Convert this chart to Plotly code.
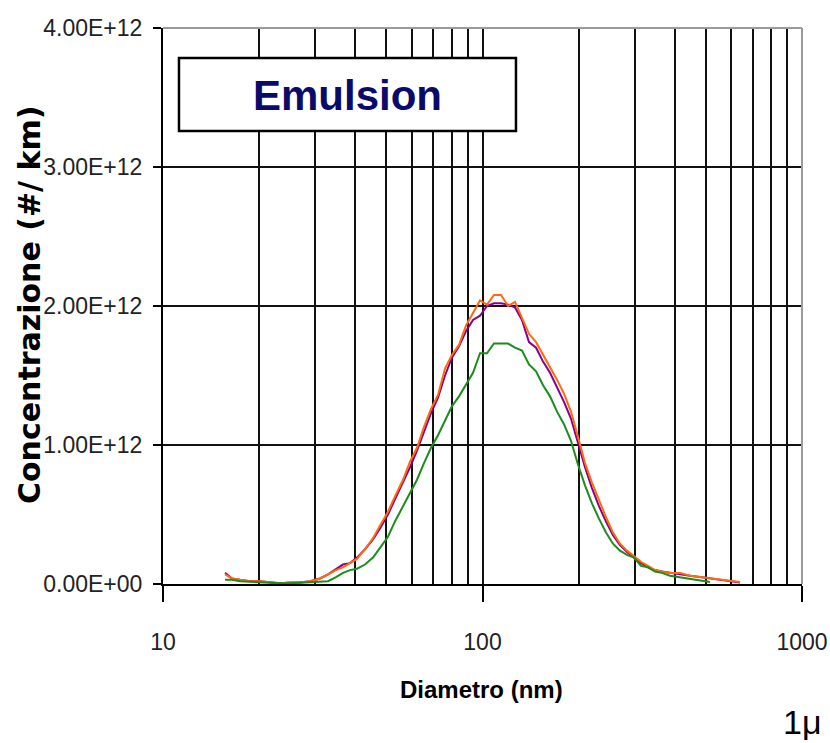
import plotly.graph_objects as go

# Particle size distribution, diameters in nm (log scale)
diameter_nm = [
    15.64, 16.44, 17.42, 18.72, 20.12, 21.62, 23.24, 24.97, 26.84, 28.85,
    31.00, 32.85, 34.79, 36.59, 38.49, 40.48, 42.88, 45.42, 47.77, 50.60,
    53.22, 56.39, 59.30, 62.37, 65.60, 69.00, 72.57, 76.33, 80.28, 84.44,
    88.81, 93.40, 98.22, 103.3, 108.6, 114.3, 120.2, 126.4, 132.9, 139.8,
    147.1, 154.7, 162.7, 171.1, 179.9, 189.2, 199.0, 209.3, 220.1, 231.5,
    243.5, 256.1, 269.4, 283.3, 298.0, 313.4, 329.6, 346.7, 364.6, 386.3,
    415.2, 446.1, 479.6, 515.4, 553.8, 595.2, 639.6,
]

# Concentrations in units of 1e12 #/km
purple_e12 = [
    0.08, 0.04, 0.03, 0.02, 0.02, 0.01, 0.005, 0.01, 0.01, 0.02,
    0.04, 0.07, 0.11, 0.14, 0.15, 0.19, 0.25, 0.32, 0.40, 0.50,
    0.61, 0.73, 0.84, 0.96, 1.10, 1.23, 1.34, 1.50, 1.63, 1.71,
    1.82, 1.90, 1.93, 2.00, 2.02, 2.02, 2.01, 1.99, 1.90, 1.74,
    1.70, 1.60, 1.52, 1.42, 1.31, 1.19, 1.02, 0.84, 0.69, 0.56,
    0.45, 0.35, 0.28, 0.23, 0.19, 0.15, 0.12, 0.10, 0.09, 0.08,
    0.07, 0.06, 0.05, 0.04, 0.03, 0.02, 0.01,
]
orange_e12 = [
    0.07, 0.04, 0.03, 0.02, 0.02, 0.01, 0.005, 0.01, 0.01, 0.02,
    0.04, 0.07, 0.10, 0.12, 0.15, 0.18, 0.25, 0.33, 0.42, 0.52,
    0.63, 0.75, 0.88, 0.98, 1.13, 1.26, 1.36, 1.55, 1.65, 1.72,
    1.86, 1.95, 2.04, 2.01, 2.08, 2.08, 2.00, 2.03, 1.92, 1.80,
    1.74, 1.65, 1.57, 1.47, 1.37, 1.24, 1.06, 0.87, 0.73, 0.60,
    0.48, 0.37, 0.29, 0.24, 0.20, 0.16, 0.13, 0.10, 0.09, 0.08,
    0.08, 0.06, 0.05, 0.04, 0.03, 0.02, 0.015,
]
green_e12 = [
    0.03, 0.03, 0.02, 0.015, 0.01, 0.005, 0.005, 0.005, 0.01, 0.01,
    0.02, 0.02, 0.05, 0.08, 0.10, 0.11, 0.14, 0.19, 0.26, 0.34,
    0.45, 0.56, 0.66, 0.75, 0.87, 0.98, 1.07, 1.18, 1.28, 1.35,
    1.43, 1.52, 1.66, 1.66, 1.73, 1.73, 1.73, 1.70, 1.68, 1.58,
    1.53, 1.43, 1.35, 1.24, 1.15, 1.03, 0.86, 0.71, 0.58, 0.47,
    0.37, 0.29, 0.24, 0.21, 0.19, 0.13, 0.12, 0.09, 0.08, 0.06,
    0.05, 0.04, 0.03, 0.015, None, None, None,
]

y_tickvals = [0, 1e12, 2e12, 3e12, 4e12]
y_ticktext = ["0.00E+00", "1.00E+12", "2.00E+12", "3.00E+12", "4.00E+12"]
x_tickvals = [10, 100, 1000]
x_ticktext = ["10", "100", "1000"]
x_minor_grid = [20, 30, 40, 50, 60, 70, 80, 90, 200, 300, 400, 500, 600, 700, 800, 900]

SANS = "Liberation Sans, Arial, sans-serif"
GRID = "#111111"


def scaled(vals):
    return [None if v is None else v * 1e12 for v in vals]


fig = go.Figure()
for name, vals, color in [
    ("purple", purple_e12, "#8a008a"),
    ("orange", orange_e12, "#ff6a10"),
    ("green", green_e12, "#1c8c1c"),
]:
    fig.add_trace(go.Scatter(
        x=diameter_nm, y=scaled(vals), mode="lines", name=name,
        line=dict(color=color, width=2), connectgaps=False,
    ))

fig.update_layout(
    width=830, height=743,
    margin=dict(l=163, r=28, t=28, b=159),
    paper_bgcolor="white", plot_bgcolor="white",
    showlegend=False,
    xaxis=dict(
        type="log", range=[1, 3], automargin=False,
        tickvals=x_tickvals, ticktext=x_ticktext,
        ticks="outside", ticklen=16, tickwidth=2, tickcolor="black",
        ticklabelstandoff=20, ticklabeloverflow="allow",
        tickfont=dict(family=SANS, size=23, color="#222222"),
        showgrid=True, gridcolor=GRID, gridwidth=2,
        minor=dict(tickvals=x_minor_grid, showgrid=True, gridcolor=GRID,
                   gridwidth=2, ticks=""),
        showline=True, linecolor="black", linewidth=2,
        zeroline=False,
    ),
    yaxis=dict(
        range=[0, 4e12], automargin=False,
        tickvals=y_tickvals, ticktext=y_ticktext,
        ticks="outside", ticklen=8, tickwidth=2, tickcolor="black",
        ticklabelstandoff=6,
        tickfont=dict(family=SANS, size=23, color="#222222"),
        showgrid=True, gridcolor=GRID, gridwidth=2,
        showline=True, linecolor="black", linewidth=2,
        zeroline=False,
    ),
)

# Light frame along the top and right edges of the plot area
fig.add_shape(type="line", xref="paper", yref="paper", x0=0, x1=1, y0=1, y1=1,
              line=dict(color="#9a9a9a", width=2), layer="above")
fig.add_shape(type="line", xref="paper", yref="paper", x0=1, x1=1, y0=0, y1=1,
              line=dict(color="#9a9a9a", width=2), layer="above")

# Title box
fig.add_shape(type="rect", xref="paper", yref="paper",
              x0=0.025, x1=0.5524, y0=0.8147, y1=0.946,
              fillcolor="white", line=dict(color="black", width=2.5), layer="above")
fig.add_annotation(text="<b>Emulsion</b>", xref="paper", yref="paper",
                   x=0.288, y=0.8777, xanchor="center", yanchor="middle",
                   showarrow=False,
                   font=dict(family=SANS, size=42, color="#0a0a6a"))

# Axis titles
fig.add_annotation(text="<b>Diametro (nm)</b>", xref="paper", yref="paper",
                   x=0.4977, y=-0.1906, xanchor="center", yanchor="middle",
                   showarrow=False,
                   font=dict(family=SANS, size=24, color="black"))
fig.add_annotation(text="<b>Concentrazione (#/ km)</b>", xref="paper", yref="paper",
                   x=-0.208, y=0.5018, xanchor="center", yanchor="middle",
                   textangle=-90, showarrow=False,
                   font=dict(family="DejaVu Sans, sans-serif", size=30, color="black"))

fig.add_annotation(text="1\u03bc", xref="paper", yref="paper",
                   x=1.0, y=-0.248, xanchor="center", yanchor="middle",
                   showarrow=False,
                   font=dict(family=SANS, size=34, color="black"))

fig.write_html("out.html")
